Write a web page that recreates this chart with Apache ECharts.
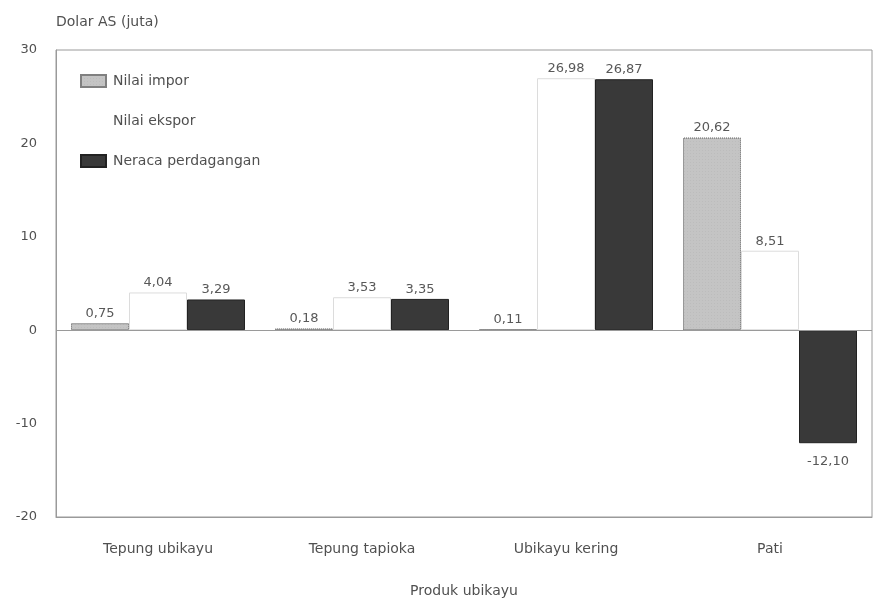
<!DOCTYPE html>
<html>
<head>
<meta charset="utf-8">
<script src="https://cdn.jsdelivr.net/npm/echarts@6/dist/echarts.min.js"></script>
<style>
  html, body { margin: 0; padding: 0; background: #fff; }
  #chart { width: 873px; height: 600px; }
</style>
</head>
<body>
<div id="chart"></div>
<script>
// Cassava product trade, million USD
const categories = ['Tepung ubikayu', 'Tepung tapioka', 'Ubikayu kering', 'Pati'];
const importValues = [0.75, 0.18, 0.11, 20.62];
const exportValues = [4.04, 3.53, 26.98, 8.51];
const balanceValues = [3.29, 3.35, 26.87, -12.10];
const yTicks = [-20, -10, 0, 10, 20, 30];

const textColor = '#505050';
const fontFamily = '"DejaVu Sans", "Liberation Sans", sans-serif';

// Values are printed with a decimal comma
const fmt = v => v.toFixed(2).replace('.', ',');

const labelCfg = {
  show: true,
  position: 'top',
  distance: 3,
  color: '#585858',
  fontSize: 13,
  fontFamily,
  formatter: p => fmt(p.value)
};

const chart = echarts.init(document.getElementById('chart'), null, { renderer: 'canvas' });

chart.setOption({
  animation: false,
  backgroundColor: '#fff',
  textStyle: { fontFamily },
  grid: {
    left: 56, right: 1, top: 50, bottom: 83,
    outerBoundsMode: 'none',
    containLabel: false,
    show: true, borderColor: '#9a9a9a', borderWidth: 1
  },
  legend: {
    orient: 'vertical',
    left: 75, top: 69,
    itemWidth: 25, itemHeight: 12, itemGap: 26,
    icon: 'rect',
    textStyle: { color: textColor, fontSize: 14, fontFamily, padding: [0, 0, 0, 2] },
    data: [
      'Nilai impor',
      { name: 'Nilai ekspor', itemStyle: { borderColor: '#ffffff', color: '#ffffff' } },
      'Neraca perdagangan'
    ]
  },
  xAxis: {
    type: 'category',
    data: categories,
    name: 'Produk ubikayu',
    nameLocation: 'middle',
    nameGap: 67,
    nameTextStyle: { color: textColor, fontSize: 14, fontFamily },
    axisLine: { onZero: false, lineStyle: { color: '#9a9a9a' } },
    axisTick: { show: false },
    axisLabel: { color: textColor, fontSize: 14, margin: 25, fontFamily }
  },
  yAxis: {
    type: 'value',
    min: yTicks[0], max: yTicks[yTicks.length - 1], interval: 10,
    name: 'Dolar AS (juta)',
    nameLocation: 'end',
    nameGap: 21,
    nameTextStyle: { color: textColor, fontSize: 14, align: 'left', fontFamily },
    axisLine: { show: true, lineStyle: { color: '#9a9a9a' } },
    axisTick: { show: false },
    splitLine: { show: false },
    axisLabel: { color: textColor, fontSize: 13, margin: 19, fontFamily }
  },
  series: [
    {
      name: 'Nilai impor',
      type: 'bar',
      barGap: '0%',
      barCategoryGap: '14.7%',
      data: importValues,
      itemStyle: {
        color: '#c4c4c4',
        borderColor: '#808080',
        borderWidth: 1,
        borderType: 'dotted',
        decal: {
          symbol: 'rect',
          symbolSize: 0.5,
          color: 'rgba(90,90,90,0.25)',
          dashArrayX: [1, 2],
          dashArrayY: [1, 2],
          rotation: 0
        }
      },
      label: labelCfg,
      markLine: {
        silent: true,
        symbol: 'none',
        label: { show: false },
        lineStyle: { color: '#9a9a9a', type: 'solid', width: 1 },
        data: [{ yAxis: 0 }]
      }
    },
    {
      name: 'Nilai ekspor',
      type: 'bar',
      data: exportValues,
      itemStyle: { color: '#ffffff', borderColor: '#dcdcdc', borderWidth: 1 },
      label: labelCfg
    },
    {
      name: 'Neraca perdagangan',
      type: 'bar',
      data: balanceValues.map(v => v < 0
        ? { value: v, label: { position: 'bottom', distance: 12 } }
        : v),
      itemStyle: { color: '#393939', borderColor: '#222', borderWidth: 1 },
      label: labelCfg
    }
  ]
});
</script>
</body>
</html>
